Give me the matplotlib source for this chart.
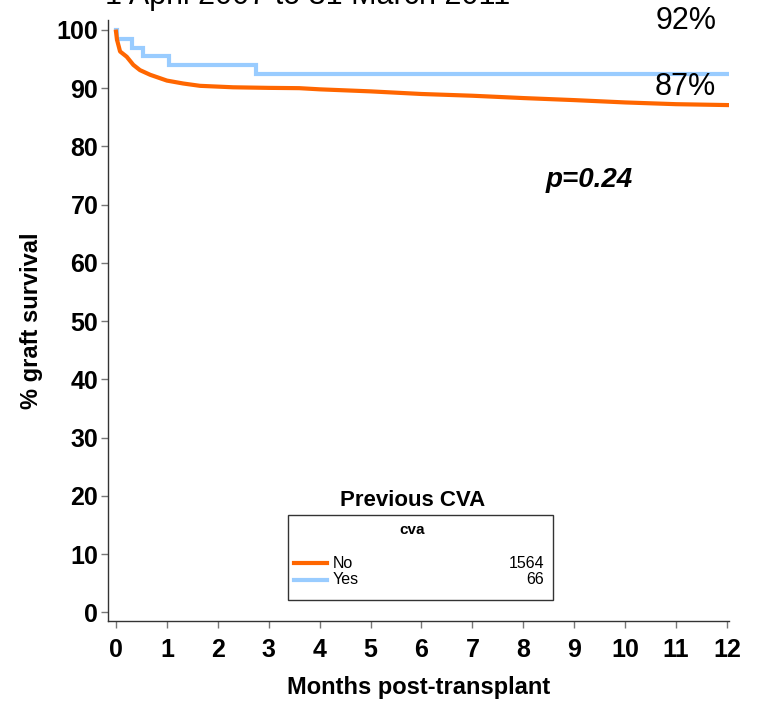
import matplotlib
matplotlib.use("Agg")
import matplotlib.pyplot as plt
from matplotlib.lines import Line2D
from matplotlib.patches import Rectangle

plt.rcParams['font.family'] = ['Liberation Sans', 'DejaVu Sans']

# Kaplan-Meier graft survival, months post-transplant
no_t = [0, 0.02, 0.08, 0.21, 0.34, 0.47, 0.67, 1.0, 1.32, 1.65, 2.3, 3.0, 3.6,
        4.0, 5.0, 6.0, 7.0, 8.0, 9.0, 10.0, 11.0, 12.0]
no_s = [99.7, 98.3, 96.3, 95.4, 94.0, 93.1, 92.3, 91.3, 90.8, 90.4, 90.15, 90.05, 90.0,
        89.8, 89.45, 89.0, 88.7, 88.3, 87.95, 87.55, 87.25, 87.1]

yes_t = [0, 0.02, 0.32, 0.54, 1.04, 2.75, 12.0]
yes_s = [100, 98.48, 96.97, 95.45, 93.94, 92.42, 92.42]

groups = ['No', 'Yes']
counts = [1564, 66]
colors = ['#FF6600', '#99CCFF']
end_labels = ['87%', '92%']

x_ticks = list(range(0, 13))
y_ticks = list(range(0, 101, 10))

fig = plt.figure(figsize=(7.63, 7.04), dpi=100)
ax = fig.add_axes([108/763, 1 - 621/704, 621/763, 601/704])

ax.step(yes_t, yes_s, where='post', color=colors[1], lw=3, solid_joinstyle='miter')
ax.plot(no_t, no_s, color=colors[0], lw=3)

ax.set_xlim(-0.157, 12.04)
ax.set_ylim(-1.46, 101.7)
ax.set_xticks(x_ticks)
ax.set_yticks(y_ticks)
ax.tick_params(direction='out', length=5, width=1, color='#777777', labelsize=18)
for lab in ax.get_xticklabels() + ax.get_yticklabels():
    lab.set_fontweight('bold')
ax.tick_params(axis='x', pad=7)
ax.tick_params(axis='y', pad=2)
for s in ['top', 'right']:
    ax.spines[s].set_visible(False)
for s in ['left', 'bottom']:
    ax.spines[s].set_color('#333333')
    ax.spines[s].set_linewidth(1)

ax.set_xlabel('Months post-transplant', fontsize=17, fontweight='bold', labelpad=10)
ax.set_ylabel('% graft survival', fontsize=17, fontweight='bold', labelpad=10)

# end-of-follow-up annotations
ax.text(11.79, 101.5, end_labels[1], fontsize=22, ha='right', va='center')
ax.text(11.79, 90.2, end_labels[0], fontsize=22, ha='right', va='center')
ax.text(9.3, 74.3, 'p=0.24', fontsize=20, fontweight='bold', style='italic',
        ha='center', va='center')

# subtitle sits mostly above the top edge
fig.text(105/763, 1 - 4/704, '1 April 2007 to 31 March 2011', fontsize=22,
         ha='left', va='baseline')

# legend box
fig.text(413/763, 1 - 501/704, 'Previous CVA', fontsize=16, fontweight='bold',
         ha='center', va='center')
fig.patches.append(Rectangle((288/763, 1 - 600/704), 265/763, 85/704,
                             transform=fig.transFigure, fill=False,
                             edgecolor='#333333', lw=1))
fig.text(412/763, 1 - 530/704, 'cva', fontsize=11, fontweight='bold',
         ha='center', va='center')
for i, (g, n, c) in enumerate(zip(groups, counts, colors)):
    yy = 1 - (563 + 17 * i) / 704
    fig.lines.append(Line2D([294/763, 327/763], [yy, yy], transform=fig.transFigure,
                            color=c, lw=3))
    fig.text(333/763, yy, g, fontsize=11.5, ha='left', va='center')
    fig.text(544/763, yy, str(n), fontsize=11.5, ha='right', va='center')

fig.savefig('out.png', dpi=100)
